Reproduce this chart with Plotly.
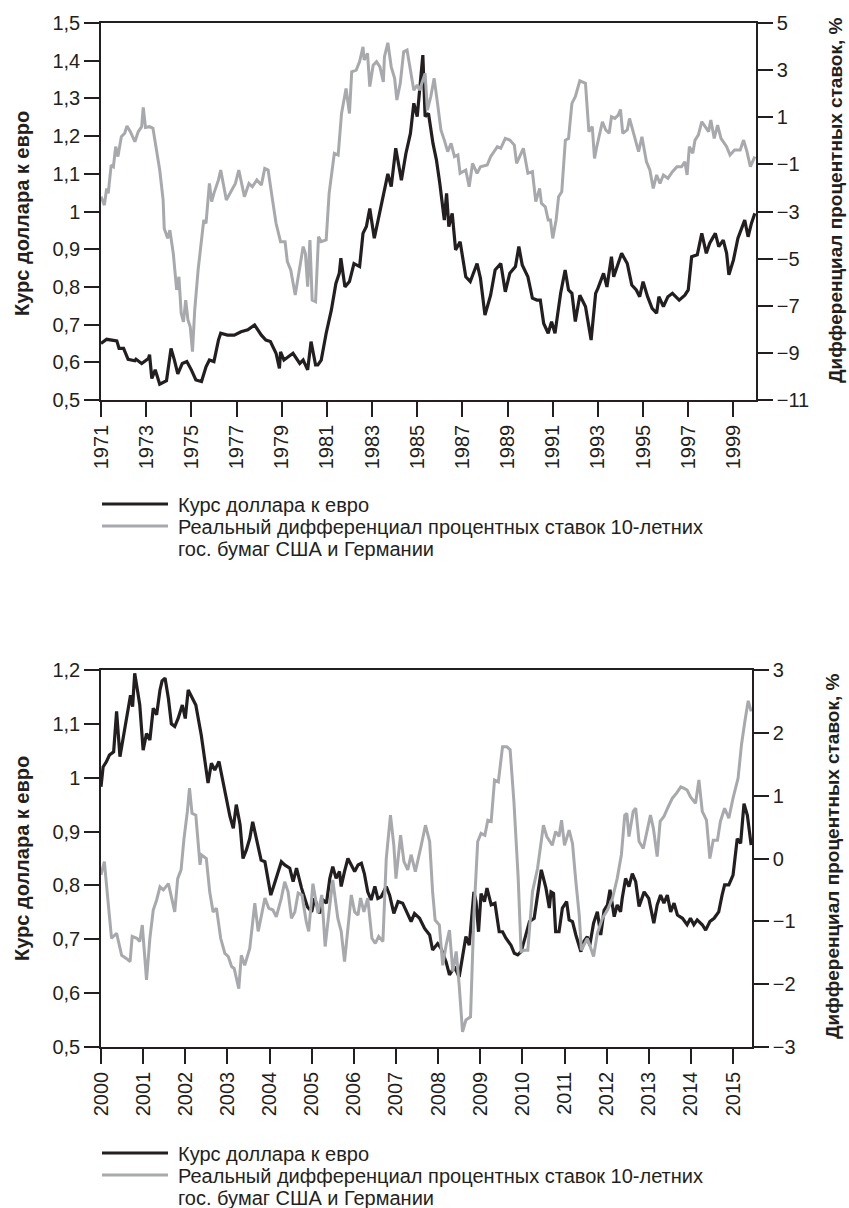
import plotly.graph_objects as go

# 1971-1999: dollar/euro rate (left axis) and real rate differential (right axis)
usd_a_t = [1971.0, 1971.25, 1971.7, 1971.8, 1972.0, 1972.2, 1972.5, 1972.55, 1972.8, 1973.1,
           1973.15, 1973.25, 1973.4, 1973.6, 1973.9, 1973.97, 1974.1, 1974.25, 1974.4, 1974.6,
           1974.8, 1975.0, 1975.2, 1975.45, 1975.65, 1975.8, 1976.0, 1976.2, 1976.3, 1976.6,
           1976.9, 1977.2, 1977.5, 1977.8, 1978.1, 1978.3, 1978.5, 1978.75, 1978.9, 1978.95,
           1979.1, 1979.5, 1979.8, 1979.95, 1980.15, 1980.3, 1980.5, 1980.6, 1980.75, 1980.97,
           1981.1, 1981.2, 1981.4, 1981.55, 1981.62, 1981.8, 1982.0, 1982.2, 1982.45, 1982.6,
           1982.75, 1982.9, 1983.1, 1983.3, 1983.5, 1983.7, 1983.85, 1984.05, 1984.3, 1984.5,
           1984.7, 1984.85, 1985.0, 1985.15, 1985.25, 1985.35, 1985.5, 1985.7, 1985.85, 1986.0,
           1986.2, 1986.3, 1986.4, 1986.55, 1986.7, 1986.9, 1987.15, 1987.35, 1987.65, 1987.8,
           1988.0, 1988.25, 1988.45, 1988.7, 1988.9, 1989.1, 1989.35, 1989.5, 1989.65, 1989.9,
           1990.1, 1990.3, 1990.45, 1990.6, 1990.8, 1990.95, 1991.1, 1991.35, 1991.55, 1991.7,
           1991.85, 1992.0, 1992.2, 1992.45, 1992.7, 1992.9, 1993.0, 1993.25, 1993.4, 1993.6,
           1993.7, 1994.05, 1994.3, 1994.5, 1994.7, 1994.85, 1995.0, 1995.2, 1995.4, 1995.6,
           1995.7, 1995.9, 1996.1, 1996.3, 1996.6, 1996.85, 1997.0, 1997.15, 1997.4, 1997.6,
           1997.8, 1997.95, 1998.2, 1998.35, 1998.55, 1998.7, 1998.8, 1999.0, 1999.2, 1999.5,
           1999.65, 1999.8, 1999.95]
usd_a_v = [0.650, 0.661, 0.657, 0.637, 0.637, 0.608, 0.604, 0.608, 0.597, 0.610,
           0.620, 0.557, 0.580, 0.542, 0.551, 0.584, 0.637, 0.606, 0.569, 0.597,
           0.602, 0.580, 0.553, 0.549, 0.588, 0.606, 0.602, 0.659, 0.677, 0.672,
           0.672, 0.681, 0.686, 0.699, 0.672, 0.659, 0.655, 0.624, 0.584, 0.628,
           0.606, 0.624, 0.597, 0.606, 0.580, 0.655, 0.593, 0.593, 0.606, 0.677,
           0.712, 0.739, 0.809, 0.836, 0.876, 0.800, 0.814, 0.862, 0.854, 0.942,
           0.960, 1.008, 0.929, 0.986, 1.040, 1.100, 1.066, 1.168, 1.083, 1.154,
           1.207, 1.287, 1.252, 1.349, 1.415, 1.252, 1.260, 1.180, 1.137, 1.075,
           0.977, 1.048, 0.960, 0.995, 0.898, 0.920, 0.827, 0.814, 0.862, 0.823,
           0.725, 0.778, 0.845, 0.862, 0.787, 0.836, 0.854, 0.907, 0.858, 0.827,
           0.770, 0.765, 0.765, 0.703, 0.677, 0.708, 0.677, 0.783, 0.845, 0.792,
           0.783, 0.708, 0.778, 0.748, 0.659, 0.783, 0.796, 0.836, 0.800, 0.880,
           0.827, 0.889, 0.862, 0.805, 0.792, 0.774, 0.814, 0.774, 0.743, 0.730,
           0.774, 0.748, 0.774, 0.783, 0.765, 0.778, 0.792, 0.880, 0.885, 0.942,
           0.889, 0.916, 0.942, 0.907, 0.924, 0.889, 0.832, 0.871, 0.929, 0.977,
           0.933, 0.969, 0.995]

diff_a_t = [1971.0, 1971.15, 1971.25, 1971.32, 1971.45, 1971.55, 1971.65, 1971.75, 1971.9, 1972.05,
            1972.15, 1972.3, 1972.5, 1972.65, 1972.8, 1972.87, 1972.97, 1973.15, 1973.3, 1973.45,
            1973.6, 1973.75, 1973.8, 1973.95, 1974.05, 1974.2, 1974.35, 1974.45, 1974.55, 1974.65,
            1974.75, 1974.85, 1974.95, 1975.05, 1975.15, 1975.3, 1975.45, 1975.55, 1975.65, 1975.8,
            1975.9, 1976.0, 1976.2, 1976.3, 1976.55, 1976.75, 1976.95, 1977.1, 1977.35, 1977.55,
            1977.7, 1977.9, 1978.1, 1978.25, 1978.4, 1978.55, 1978.75, 1978.95, 1979.15, 1979.25,
            1979.4, 1979.6, 1979.75, 1979.95, 1980.05, 1980.15, 1980.25, 1980.35, 1980.5, 1980.63,
            1980.75, 1980.97, 1981.1, 1981.33, 1981.5, 1981.65, 1981.85, 1982.0, 1982.1, 1982.3,
            1982.45, 1982.6, 1982.65, 1982.8, 1982.9, 1983.05, 1983.2, 1983.35, 1983.5, 1983.55,
            1983.7, 1983.85, 1984.0, 1984.1, 1984.25, 1984.4, 1984.55, 1984.7, 1984.85, 1985.0,
            1985.1, 1985.35, 1985.45, 1985.6, 1985.75, 1985.9, 1986.05, 1986.2, 1986.35, 1986.5,
            1986.65, 1986.8, 1986.9, 1987.15, 1987.3, 1987.45, 1987.65, 1987.8, 1988.1, 1988.25,
            1988.4, 1988.55, 1988.7, 1988.9, 1989.1, 1989.3, 1989.4, 1989.55, 1989.7, 1989.9,
            1990.1, 1990.25, 1990.42, 1990.5, 1990.67, 1990.8, 1990.9, 1991.0, 1991.15, 1991.26,
            1991.4, 1991.56, 1991.7, 1991.85, 1992.0, 1992.2, 1992.45, 1992.6, 1992.75, 1992.85,
            1992.95, 1993.2, 1993.35, 1993.5, 1993.6, 1993.75, 1993.9, 1994.0, 1994.1, 1994.3,
            1994.4, 1994.6, 1994.8, 1994.95, 1995.15, 1995.3, 1995.45, 1995.6, 1995.75, 1995.9,
            1996.1, 1996.3, 1996.5, 1996.7, 1996.85, 1996.95, 1997.05, 1997.2, 1997.3, 1997.45,
            1997.6, 1997.75, 1997.9, 1998.0, 1998.15, 1998.3, 1998.45, 1998.7, 1998.85, 1999.05,
            1999.3, 1999.45, 1999.6, 1999.75, 1999.95]
diff_a_v = [-2.37, -2.73, -2.02, -2.23, -1.03, -1.10, -0.25, -0.67, 0.17, 0.32,
            0.63, 0.39, -0.04, 0.39, 0.60, 1.42, 0.57, 0.60, 0.53, -0.32,
            -1.24, -2.51, -3.72, -4.14, -3.79, -4.78, -6.33, -5.77, -7.32, -7.68,
            -6.76, -7.60, -7.89, -8.95, -7.18, -5.48, -4.35, -3.36, -3.50, -1.81,
            -2.58, -2.23, -1.66, -1.24, -2.51, -2.16, -1.81, -1.24, -2.37, -1.81,
            -1.95, -1.66, -1.88, -1.17, -1.24, -2.23, -3.50, -4.28, -4.28, -5.13,
            -5.48, -6.54, -5.62, -4.49, -4.78, -6.19, -4.21, -6.76, -6.83, -4.07,
            -4.28, -4.21, -2.23, -0.53, -0.60, 1.16, 2.22, 1.16, 2.93, 3.00,
            3.36, 3.99, 3.43, 3.71, 2.30, 3.21, 3.36, 3.14, 2.50, 3.57,
            4.16, 3.14, 2.65, 1.73, 2.44, 3.78, 3.85, 3.00, 2.15, 2.37,
            2.15, 2.86, 1.30, 1.87, 2.65, 1.59, 0.46, 0.03, -0.46, -0.11,
            -0.67, -0.60, -1.38, -1.24, -1.95, -0.96, -1.38, -1.10, -1.03, -0.67,
            -0.46, -0.25, -0.32, 0.10, 0.03, -0.18, -0.96, -0.67, -0.32, -1.38,
            -1.31, -2.58, -2.02, -2.65, -2.80, -3.36, -3.36, -4.14, -3.36, -2.37,
            -2.16, 0.03, 0.10, 1.59, 1.87, 2.55, 2.44, 0.39, 0.60, -0.75,
            -0.25, 0.81, 0.46, 0.32, 1.02, 0.95, 1.09, 1.33, 0.32, 0.46,
            0.95, 0.25, -0.46, 0.17, -0.89, -1.24, -2.02, -1.45, -1.81, -1.45,
            -1.59, -1.31, -1.10, -1.10, -0.89, -1.45, -0.25, -0.53, 0.03, 0.25,
            0.81, 0.60, 0.39, 0.88, 0.10, 0.67, 0.10, -0.25, -0.60, -0.39,
            -0.39, 0.03, -0.46, -1.10, -0.67]

# 2000-2015
usd_b_t = [2000.0, 2000.05, 2000.13, 2000.2, 2000.3, 2000.37, 2000.45, 2000.53, 2000.6, 2000.7,
           2000.75, 2000.8, 2000.87, 2000.92, 2001.0, 2001.08, 2001.16, 2001.24, 2001.32, 2001.4,
           2001.45, 2001.52, 2001.6, 2001.67, 2001.75, 2001.83, 2001.93, 2002.0, 2002.07, 2002.15,
           2002.25, 2002.38, 2002.46, 2002.54, 2002.62, 2002.7, 2002.8, 2002.9, 2002.98, 2003.06,
           2003.14, 2003.21, 2003.3, 2003.37, 2003.45, 2003.53, 2003.6, 2003.73, 2003.8, 2003.89,
           2003.96, 2004.03, 2004.12, 2004.2, 2004.28, 2004.36, 2004.48, 2004.56, 2004.64, 2004.76,
           2004.9, 2005.0, 2005.07, 2005.19, 2005.27, 2005.35, 2005.43, 2005.5, 2005.58, 2005.66,
           2005.7, 2005.78, 2005.86, 2005.94, 2006.02, 2006.1, 2006.18, 2006.25, 2006.33, 2006.41,
           2006.5, 2006.57, 2006.65, 2006.77, 2006.85, 2006.95, 2007.05, 2007.16, 2007.28, 2007.36,
           2007.44, 2007.56, 2007.68, 2007.8, 2007.87, 2007.99, 2008.07, 2008.19, 2008.27, 2008.39,
           2008.5, 2008.58, 2008.66, 2008.74, 2008.85, 2008.9, 2008.96, 2009.02, 2009.1, 2009.16,
           2009.26, 2009.35, 2009.45, 2009.53, 2009.61, 2009.73, 2009.81, 2009.89, 2009.97, 2010.05,
           2010.17, 2010.28, 2010.36, 2010.45, 2010.56, 2010.64, 2010.68, 2010.74, 2010.79, 2010.87,
           2010.95, 2011.05, 2011.11, 2011.19, 2011.27, 2011.39, 2011.46, 2011.54, 2011.6, 2011.69,
           2011.78, 2011.86, 2011.94, 2012.02, 2012.08, 2012.18, 2012.25, 2012.33, 2012.37, 2012.45,
           2012.53, 2012.61, 2012.69, 2012.77, 2012.89, 2013.0, 2013.12, 2013.2, 2013.28, 2013.36,
           2013.44, 2013.52, 2013.6, 2013.68, 2013.8, 2013.91, 2013.99, 2014.07, 2014.15, 2014.27,
           2014.35, 2014.45, 2014.55, 2014.66, 2014.74, 2014.8, 2014.9, 2015.0, 2015.1, 2015.18,
           2015.26, 2015.34, 2015.43]
usd_b_v = [0.983, 1.020, 1.030, 1.042, 1.048, 1.123, 1.039, 1.076, 1.110, 1.153,
           1.132, 1.194, 1.160, 1.135, 1.051, 1.082, 1.070, 1.129, 1.117, 1.163,
           1.180, 1.185, 1.147, 1.100, 1.095, 1.110, 1.135, 1.110, 1.163, 1.150,
           1.135, 1.079, 1.036, 0.990, 1.027, 1.014, 1.030, 0.993, 0.962, 0.928,
           0.906, 0.950, 0.913, 0.850, 0.866, 0.887, 0.918, 0.872, 0.847, 0.844,
           0.813, 0.782, 0.804, 0.826, 0.844, 0.838, 0.832, 0.807, 0.832, 0.795,
           0.760, 0.751, 0.776, 0.748, 0.773, 0.767, 0.813, 0.835, 0.813, 0.826,
           0.798, 0.826, 0.850, 0.838, 0.826, 0.838, 0.841, 0.822, 0.788, 0.773,
           0.798, 0.776, 0.779, 0.798, 0.782, 0.748, 0.770, 0.767, 0.748, 0.733,
           0.748, 0.739, 0.720, 0.708, 0.680, 0.692, 0.683, 0.658, 0.634, 0.649,
           0.630, 0.671, 0.705, 0.689, 0.788, 0.770, 0.714, 0.785, 0.770, 0.795,
           0.764, 0.767, 0.714, 0.714, 0.702, 0.689, 0.674, 0.671, 0.677, 0.699,
           0.733, 0.739, 0.782, 0.829, 0.795, 0.758, 0.788, 0.785, 0.714, 0.714,
           0.758, 0.770, 0.736, 0.733, 0.708, 0.677, 0.696, 0.705, 0.689, 0.730,
           0.751, 0.708, 0.754, 0.764, 0.792, 0.742, 0.764, 0.751, 0.776, 0.813,
           0.798, 0.822, 0.807, 0.761, 0.788, 0.776, 0.730, 0.764, 0.782, 0.767,
           0.782, 0.751, 0.767, 0.745, 0.739, 0.727, 0.739, 0.727, 0.736, 0.727,
           0.717, 0.733, 0.739, 0.751, 0.782, 0.801, 0.801, 0.819, 0.887, 0.878,
           0.952, 0.930, 0.875]

diff_b_t = [2000.0, 2000.08, 2000.16, 2000.25, 2000.37, 2000.49, 2000.6, 2000.69, 2000.74, 2000.85,
            2000.92, 2000.98, 2001.08, 2001.16, 2001.24, 2001.32, 2001.4, 2001.48, 2001.6, 2001.67,
            2001.75, 2001.82, 2001.9, 2001.97, 2002.05, 2002.1, 2002.16, 2002.25, 2002.35, 2002.38,
            2002.5, 2002.58, 2002.66, 2002.74, 2002.84, 2002.94, 2003.02, 2003.1, 2003.16, 2003.27,
            2003.33, 2003.41, 2003.53, 2003.65, 2003.73, 2003.81, 2003.89, 2003.98, 2004.08, 2004.16,
            2004.28, 2004.36, 2004.44, 2004.52, 2004.6, 2004.68, 2004.77, 2004.87, 2004.93, 2005.03,
            2005.11, 2005.15, 2005.24, 2005.32, 2005.43, 2005.5, 2005.62, 2005.7, 2005.78, 2005.86,
            2005.94, 2006.02, 2006.1, 2006.16, 2006.24, 2006.33, 2006.43, 2006.51, 2006.59, 2006.69,
            2006.77, 2006.87, 2006.95, 2007.0, 2007.11, 2007.19, 2007.28, 2007.36, 2007.46, 2007.6,
            2007.7, 2007.8, 2007.87, 2007.93, 2008.03, 2008.11, 2008.19, 2008.27, 2008.35, 2008.43,
            2008.5, 2008.58, 2008.66, 2008.77, 2008.85, 2008.94, 2009.02, 2009.11, 2009.18, 2009.26,
            2009.34, 2009.43, 2009.53, 2009.63, 2009.71, 2009.8, 2009.9, 2009.97, 2010.05, 2010.13,
            2010.24, 2010.36, 2010.5, 2010.58, 2010.71, 2010.79, 2010.87, 2010.93, 2011.0, 2011.11,
            2011.19, 2011.27, 2011.35, 2011.4, 2011.46, 2011.54, 2011.6, 2011.69, 2011.78, 2011.9,
            2012.02, 2012.14, 2012.25, 2012.35, 2012.43, 2012.48, 2012.53, 2012.63, 2012.69, 2012.77,
            2012.87, 2012.97, 2013.04, 2013.11, 2013.2, 2013.27, 2013.36, 2013.46, 2013.56, 2013.66,
            2013.76, 2013.83, 2013.91, 2013.99, 2014.11, 2014.19, 2014.27, 2014.37, 2014.45, 2014.53,
            2014.63, 2014.7, 2014.8, 2014.9, 2015.0, 2015.12, 2015.2, 2015.28, 2015.36, 2015.43]
diff_b_v = [-0.26, -0.05, -0.63, -1.27, -1.19, -1.54, -1.59, -1.64, -1.24, -1.27,
            -1.32, -1.06, -1.93, -1.27, -0.82, -0.66, -0.45, -0.50, -0.40, -0.63,
            -0.85, -0.32, -0.18, 0.32, 0.75, 1.12, 0.72, 0.69, -0.10, 0.06,
            0.00, -0.53, -0.85, -0.79, -1.27, -1.51, -1.56, -1.72, -1.75, -2.07,
            -1.54, -1.70, -1.43, -0.71, -1.16, -0.90, -0.63, -0.79, -0.82, -0.93,
            -0.63, -0.37, -0.53, -0.95, -0.85, -0.55, -0.58, -1.00, -1.16, -0.40,
            -0.74, -0.87, -0.58, -1.40, -0.74, -0.34, -0.95, -1.16, -1.64, -1.06,
            -0.58, -0.85, -0.90, -0.63, -0.85, -0.63, -1.27, -1.35, -1.24, -1.32,
            0.00, 0.69, 0.21, -0.32, 0.37, -0.05, -0.18, 0.06, -0.21, 0.21,
            0.53, 0.27, -0.53, -0.98, -1.06, -1.70, -1.38, -1.14, -1.80, -1.48,
            -2.01, -2.76, -2.57, -2.52, -0.90, 0.27, 0.40, 0.37, 0.61, 0.59,
            1.25, 1.22, 1.78, 1.78, 1.73, 0.90, -0.30, -1.48, -1.46, -1.46,
            -0.53, -0.16, 0.53, 0.35, 0.21, 0.43, 0.35, 0.61, 0.21, 0.45,
            0.24, -0.37, -0.90, -1.46, -1.38, -1.27, -1.38, -1.56, -1.19, -0.95,
            -0.82, -0.63, -0.32, 0.06, 0.69, 0.72, 0.35, 0.75, 0.80, 0.27,
            0.16, 0.45, 0.69, 0.48, 0.03, 0.59, 0.67, 0.82, 0.96, 1.04,
            1.14, 1.12, 1.09, 0.98, 0.88, 1.25, 0.75, 0.61, 0.00, 0.29,
            0.29, 0.59, 0.80, 0.64, 0.96, 1.28, 1.81, 2.18, 2.51, 2.34]

assert len(usd_a_t) == len(usd_a_v) and len(diff_a_t) == len(diff_a_v)
assert len(usd_b_t) == len(usd_b_v) and len(diff_b_t) == len(diff_b_v)

name_usd = 'Курс доллара к евро'
name_diff = ['Реальный дифференциал процентных ставок 10-летних', 'гос. бумаг США и Германии']
title_left = 'Курс доллара к евро'
title_right = 'Дифференциал процентных ставок, %'

W, H = 849, 1208
INK = '#231f20'
GREY = '#a7a9ac'
FONT = 'Liberation Sans, Arial, sans-serif'


def px_x(x):
    return x / W


def px_y(y):
    return 1 - y / H


fig = go.Figure()
fig.add_trace(go.Scatter(x=diff_a_t, y=diff_a_v, mode='lines', xaxis='x', yaxis='y2',
                         line=dict(color=GREY, width=3), showlegend=False))
fig.add_trace(go.Scatter(x=usd_a_t, y=usd_a_v, mode='lines', xaxis='x', yaxis='y',
                         line=dict(color=INK, width=3.2), showlegend=False))
fig.add_trace(go.Scatter(x=usd_b_t, y=usd_b_v, mode='lines', xaxis='x2', yaxis='y3',
                         line=dict(color=INK, width=3.2), showlegend=False))
fig.add_trace(go.Scatter(x=diff_b_t, y=diff_b_v, mode='lines', xaxis='x2', yaxis='y4',
                         line=dict(color=GREY, width=3), showlegend=False))

tick_font = dict(family=FONT, size=20, color=INK)
axis_common = dict(showgrid=False, zeroline=False, showline=True, linecolor=INK, linewidth=1.5,
                   ticks='outside', ticklen=15, tickwidth=1.5, tickcolor=INK, tickfont=tick_font,
                   automargin=False)

fig.update_layout(
    template='none',
    width=W, height=H, margin=dict(l=0, r=0, t=0, b=0, autoexpand=False),
    paper_bgcolor='white', plot_bgcolor='white', separators=', ',
    xaxis=dict(domain=[px_x(101), px_x(756)], anchor='y', range=[1971, 2000], tick0=1971, dtick=2,
               tickangle=-90, mirror=True, **axis_common),
    yaxis=dict(domain=[px_y(400), px_y(23)], anchor='x', range=[0.5, 1.5], dtick=0.1, **axis_common),
    yaxis2=dict(overlaying='y', anchor='x', side='right', range=[-11, 5], tick0=-11, dtick=2,
                **axis_common),
    xaxis2=dict(domain=[px_x(101), px_x(752)], anchor='y3', range=[2000, 2015.45], tick0=2000,
                dtick=1, tickangle=-90, mirror=True, **axis_common),
    yaxis3=dict(domain=[px_y(1047), px_y(670)], anchor='x2', range=[0.5, 1.2], dtick=0.1,
                **axis_common),
    yaxis4=dict(overlaying='y3', anchor='x2', side='right', range=[-3, 3], dtick=1, **axis_common),
)

# axis titles
for x, y, txt, size in [(22, 214, title_left, 20), (836, 200, title_right, 19),
                        (22, 859, title_left, 20), (832, 856, title_right, 19)]:
    fig.add_annotation(xref='paper', yref='paper', x=px_x(x), y=px_y(y), text='<b>%s</b>' % txt,
                       textangle=-90, showarrow=False, xanchor='center', yanchor='middle',
                       font=dict(family=FONT, size=size, color=INK))

# legends under each chart
for base in [504, 1153]:
    fig.add_shape(type='line', xref='paper', yref='paper', x0=px_x(102), x1=px_x(168),
                  y0=px_y(base), y1=px_y(base), line=dict(color=INK, width=3))
    fig.add_shape(type='line', xref='paper', yref='paper', x0=px_x(102), x1=px_x(168),
                  y0=px_y(base + 22), y1=px_y(base + 22), line=dict(color=GREY, width=3))
    for i, txt in enumerate([name_usd] + name_diff):
        fig.add_annotation(xref='paper', yref='paper', x=px_x(176), y=px_y(base + 1 + 22 * i),
                           text=txt, showarrow=False, xanchor='left', yanchor='middle',
                           font=dict(family=FONT, size=20, color=INK))

fig.write_html('out.html', config={'displayModeBar': False},
               post_script="document.body.style.margin='0';")
